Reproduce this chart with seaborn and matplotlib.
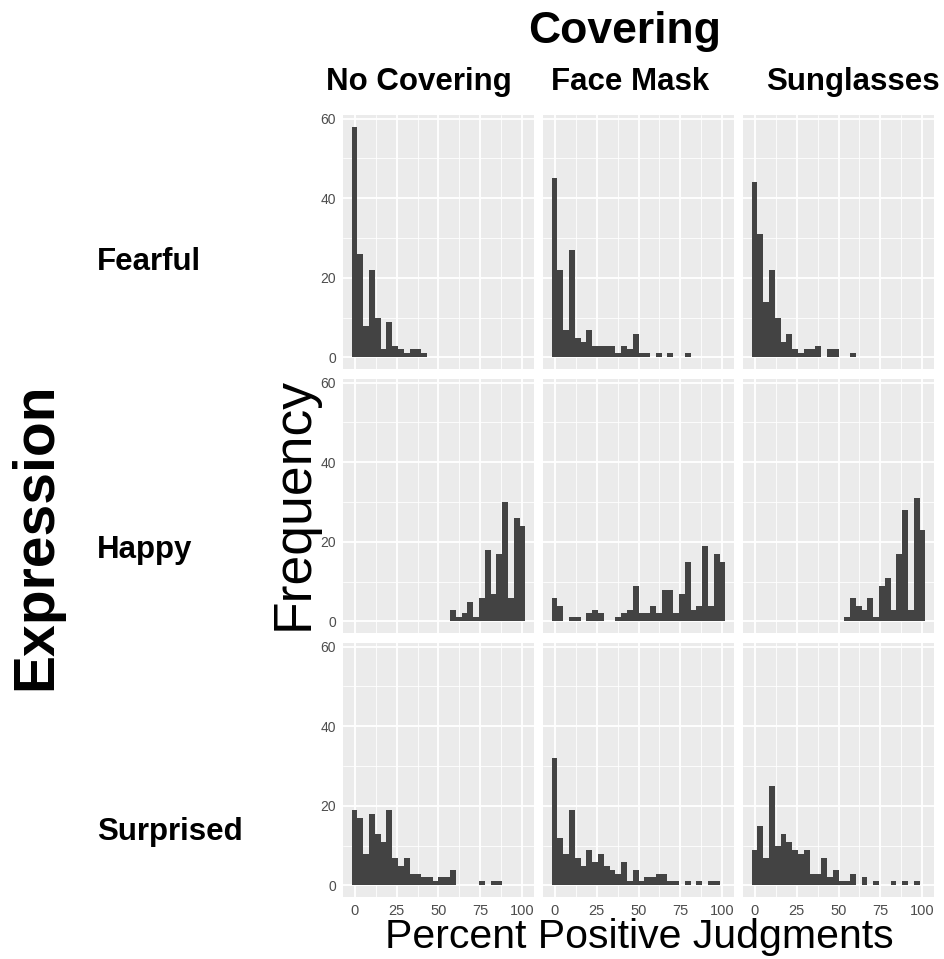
import numpy as np
import pandas as pd
import matplotlib.pyplot as plt
import seaborn as sns

coverings = ["No Covering", "Face Mask", "Sunglasses"]
expressions = ["Fearful", "Happy", "Surprised"]

# counts in each of the 30 histogram bins (0..100)
fearful_none = [58, 26, 8, 22, 10, 2, 9, 3, 2, 1, 2, 2, 1, 0, 0,
                0, 0, 0, 0, 0, 0, 0, 0, 0, 0, 0, 0, 0, 0, 0]
fearful_mask = [45, 22, 7, 27, 5, 4, 7, 3, 3, 3, 3, 1, 3, 2, 6,
                1, 1, 0, 1, 0, 1, 0, 0, 1, 0, 0, 0, 0, 0, 0]
fearful_sun = [44, 31, 14, 22, 10, 4, 6, 2, 1, 2, 2, 3, 0, 2, 2,
               0, 0, 1, 0, 0, 0, 0, 0, 0, 0, 0, 0, 0, 0, 0]
happy_none = [0, 0, 0, 0, 0, 0, 0, 0, 0, 0, 0, 0, 0, 0, 0,
              0, 0, 3, 1, 2, 5, 1, 6, 18, 7, 17, 30, 6, 26, 24]
happy_mask = [6, 4, 0, 1, 1, 0, 2, 3, 2, 0, 0, 1, 2, 3, 9,
              2, 2, 4, 2, 8, 8, 2, 7, 15, 3, 4, 19, 4, 17, 15]
happy_sun = [0, 0, 0, 0, 0, 0, 0, 0, 0, 0, 0, 0, 0, 0, 0,
             0, 1, 6, 4, 3, 6, 1, 9, 11, 3, 17, 28, 3, 31, 23]
surprised_none = [19, 17, 8, 18, 13, 11, 19, 7, 5, 7, 3, 3, 2, 2, 1,
                  2, 2, 4, 0, 0, 0, 0, 1, 0, 1, 1, 0, 0, 0, 0]
surprised_mask = [32, 12, 8, 19, 7, 5, 9, 6, 8, 5, 4, 3, 6, 1, 4,
                  1, 2, 2, 3, 3, 1, 1, 0, 1, 0, 1, 0, 1, 1, 0]
surprised_sun = [9, 15, 7, 25, 10, 13, 11, 9, 8, 9, 3, 3, 7, 2, 4,
                 1, 1, 3, 0, 2, 0, 1, 0, 0, 1, 0, 1, 0, 1, 0]

counts = {
    ("Fearful", "No Covering"): fearful_none,
    ("Fearful", "Face Mask"): fearful_mask,
    ("Fearful", "Sunglasses"): fearful_sun,
    ("Happy", "No Covering"): happy_none,
    ("Happy", "Face Mask"): happy_mask,
    ("Happy", "Sunglasses"): happy_sun,
    ("Surprised", "No Covering"): surprised_none,
    ("Surprised", "Face Mask"): surprised_mask,
    ("Surprised", "Sunglasses"): surprised_sun,
}

# ggplot-style 30 bins spanning 0..100 (centers at the range ends)
half = 100 / 29 / 2
edges = np.linspace(-half, 100 + half, 31)
centers = (edges[:-1] + edges[1:]) / 2

rows = []
for (expr, cov), vals in counts.items():
    for c, n in zip(centers, vals):
        rows.append({"Expression": expr, "Covering": cov, "pct": c, "n": n})
df = pd.DataFrame(rows)

sns.set_theme(style="darkgrid")
plt.rcParams["font.family"] = ["Liberation Sans", "DejaVu Sans"]
plt.rcParams["text.color"] = "black"

W, H = 944, 959
fig = plt.figure(figsize=(W / 100, H / 100), dpi=100)
fig.patch.set_facecolor("white")

col_left = [343, 543, 743]
row_top = [115, 379, 643]
pw, ph = 191, 254
pad = (edges[-1] - edges[0]) * 0.05

for i, expr in enumerate(expressions):
    for j, cov in enumerate(coverings):
        ax = fig.add_axes([col_left[j] / W, 1 - (row_top[i] + ph) / H, pw / W, ph / H])
        ax.set_facecolor("#EBEBEB")
        sub = df[(df["Expression"] == expr) & (df["Covering"] == cov)]
        sns.histplot(data=sub, x="pct", weights="n", bins=list(edges), ax=ax,
                     color="#434343", edgecolor="none", linewidth=0, alpha=1)
        ax.set(xlabel="", ylabel="")
        ax.set_xlim(edges[0] - pad, edges[-1] + pad)
        ax.set_ylim(-2.9, 60.9)
        ax.set_xticks([0, 25, 50, 75, 100])
        ax.set_xticks([12.5, 37.5, 62.5, 87.5], minor=True)
        ax.set_yticks([0, 20, 40, 60])
        ax.set_yticks([10, 30, 50], minor=True)
        ax.grid(which="major", color="white", linewidth=1.3)
        ax.grid(which="minor", color="white", linewidth=0.6)
        ax.set_axisbelow(True)
        for s in ax.spines.values():
            s.set_visible(False)
        ax.tick_params(which="minor", length=0)
        ax.tick_params(which="major", color="#333333", length=3, width=1.1,
                       labelcolor="#4D4D4D", pad=2)
        ax.tick_params(axis="y", labelsize=10)
        ax.tick_params(axis="x", labelsize=10.5)
        if j != 0:
            ax.tick_params(axis="y", length=0, labelleft=False)
        if i != 2:
            ax.tick_params(axis="x", length=0, labelbottom=False)

# titles and strip labels
fig.text(625 / W, 1 - 32 / H, "Covering", ha="center", va="center",
         fontsize=32, fontweight="bold")
for cov, x in zip(coverings, [419, 630, 853]):
    fig.text(x / W, 1 - 82 / H, cov, ha="center", va="center",
             fontsize=22.5, fontweight="bold")
for expr, y in zip(expressions, [262, 550, 832]):
    fig.text(97 / W, 1 - y / H, expr, ha="left", va="center",
             fontsize=22.5, fontweight="bold")
fig.text(36 / W, 1 - 536 / H, "Expression", ha="center", va="center",
         rotation=90, fontsize=41, fontweight="bold")
fig.text(294 / W, 1 - 503 / H, "Frequency", ha="center", va="center",
         rotation=90, fontsize=38.5)
fig.text(639 / W, 1 - 937 / H, "Percent Positive Judgments", ha="center",
         va="center", fontsize=29.5)

fig.savefig("out.png", dpi=100)
